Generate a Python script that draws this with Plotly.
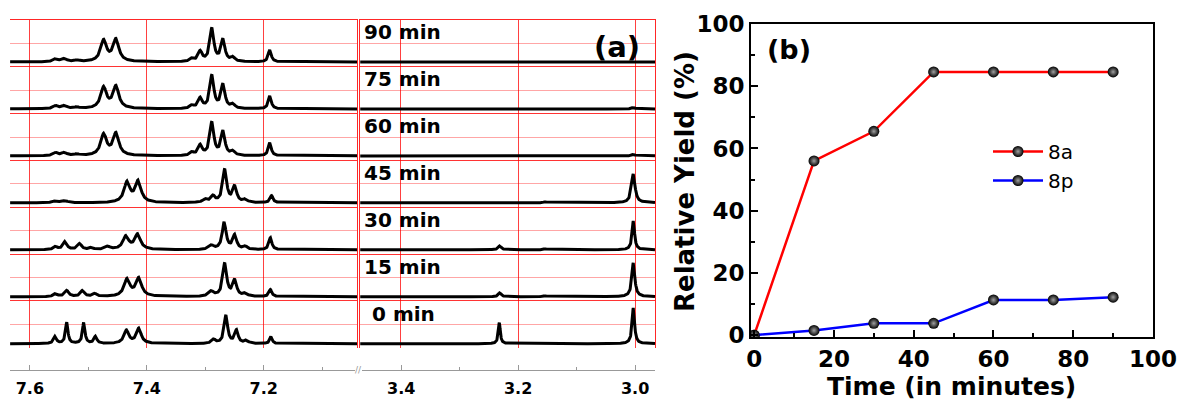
import numpy as np
import plotly.graph_objects as go

W, H = 1179, 402

# ---------------- Panel (b) data ----------------
times = [0, 15, 30, 45, 60, 75, 90]
yield_8a = [0, 56, 65.5, 84.6, 84.6, 84.6, 84.6]
yield_8p = [0, 1.5, 3.8, 3.8, 11.3, 11.3, 12.2]

# ---------------- Panel (a) data: peak lists (ppm, height, half-width) ----------------
spectrum_labels = ["0 min", "15 min", "30 min", "45 min", "60 min", "75 min", "90 min"]

peaks_0min = [(7.557, 7, 0.003), (7.537, 21, 0.0025), (7.508, 21, 0.0025), (7.488, 7, 0.003),
              (7.435, 13, 0.005), (7.414, 15, 0.005), (7.286, 4, 0.004), (7.265, 28, 0.0035),
              (7.247, 13, 0.0035), (7.230, 3, 0.004), (7.188, 7, 0.0025),
              (3.232, 21, 0.002), (3.154, 0.6, 0.003), (3.003, 36, 0.0025)]
peaks_15min = [(7.556, 3, 0.004), (7.537, 6, 0.004), (7.510, 6, 0.004), (7.489, 3, 0.004),
               (7.434, 17, 0.006), (7.414, 18, 0.006), (7.290, 5, 0.005), (7.267, 33, 0.004),
               (7.250, 16, 0.004), (7.232, 3, 0.004), (7.189, 7, 0.003),
               (3.231, 4, 0.003), (3.154, 1, 0.003), (3.003, 34, 0.003)]
peaks_30min = [(7.556, 3, 0.004), (7.540, 8, 0.004), (7.515, 6, 0.004), (7.495, 2, 0.004),
               (7.467, 3, 0.005), (7.436, 13, 0.006), (7.416, 15, 0.006), (7.290, 4, 0.005),
               (7.268, 27, 0.004), (7.250, 14, 0.004), (7.232, 3, 0.004), (7.189, 12, 0.003),
               (3.231, 4, 0.003), (3.154, 1, 0.003), (3.003, 29, 0.0025)]
peaks_45min = [(7.556, 2, 0.005), (7.540, 2, 0.005), (7.434, 20, 0.006), (7.415, 21, 0.006),
               (7.300, 3, 0.005), (7.287, 6, 0.004), (7.267, 33, 0.004), (7.250, 16, 0.004),
               (7.232, 3, 0.004), (7.187, 7, 0.003),
               (3.154, 1, 0.003), (3.003, 29, 0.0035)]
peaks_60min = [(7.556, 3, 0.005), (7.541, 3, 0.005), (7.520, 1.5, 0.005),
               (7.474, 21, 0.006), (7.453, 22, 0.006), (7.323, 3, 0.004), (7.309, 10, 0.004),
               (7.289, 33, 0.004), (7.270, 24, 0.004), (7.253, 4, 0.004), (7.190, 13, 0.003),
               (3.003, 1.5, 0.003)]
peaks_75min = [(7.556, 3, 0.005), (7.541, 3, 0.005), (7.520, 1.5, 0.005),
               (7.474, 21, 0.006), (7.453, 22, 0.006), (7.323, 3, 0.004), (7.309, 10, 0.004),
               (7.289, 33, 0.004), (7.270, 24, 0.004), (7.253, 4, 0.004), (7.190, 13, 0.003),
               (3.003, 1.5, 0.003)]
peaks_90min = [(7.556, 3, 0.005), (7.541, 3, 0.005), (7.520, 1.5, 0.005),
               (7.474, 21, 0.006), (7.453, 22, 0.006), (7.323, 3, 0.004), (7.309, 10, 0.004),
               (7.289, 33, 0.004), (7.270, 22, 0.004), (7.253, 4, 0.004), (7.190, 12, 0.003)]

all_peaks = [peaks_0min, peaks_15min, peaks_30min, peaks_45min, peaks_60min, peaks_75min, peaks_90min]

left_range = [7.634, 7.041]
right_range = [3.470, 2.966]
STACK = 47


def px_x(p):
    return p / W


def px_y(p):
    return 1 - p / H


def spectrum(x, peaks):
    y = np.zeros_like(x)
    for c, h, g in peaks:
        y += h / (1 + ((x - c) / g) ** 2)
    return y


x_left = np.arange(left_range[1], left_range[0], 0.0004)
x_right = np.arange(right_range[1], right_range[0], 0.0004)

fig = go.Figure()

for i, peaks in enumerate(all_peaks):
    off = i * STACK
    fig.add_trace(go.Scatter(x=x_left, y=spectrum(x_left, peaks) + off, mode="lines",
                             line=dict(color="black", width=3), showlegend=False,
                             xaxis="x", yaxis="y", hoverinfo="skip"))
    fig.add_trace(go.Scatter(x=x_right, y=spectrum(x_right, peaks) + off, mode="lines",
                             line=dict(color="black", width=3), showlegend=False,
                             xaxis="x2", yaxis="y2", hoverinfo="skip"))

# empty traces to register the bottom (ppm) axes
fig.add_trace(go.Scatter(x=[], y=[], xaxis="x3", yaxis="y3", showlegend=False))
fig.add_trace(go.Scatter(x=[], y=[], xaxis="x4", yaxis="y4", showlegend=False))

marker = dict(size=11, color="#000000", gradient=dict(type="radial", color="#a0a0a0"))
fig.add_trace(go.Scatter(x=times, y=yield_8a, name="8a", mode="lines+markers",
                         line=dict(color="#ff0000", width=2.5), marker=marker,
                         xaxis="x5", yaxis="y5"))
fig.add_trace(go.Scatter(x=times, y=yield_8p, name="8p", mode="lines+markers",
                         line=dict(color="#0000ff", width=2.5), marker=marker,
                         xaxis="x5", yaxis="y5"))

red_v = "rgba(255,0,0,0.75)"
red_major = "rgba(255,0,0,0.8)"
red_minor = "rgba(255,0,0,0.35)"
red_line = "rgba(255,0,0,0.85)"
y_dom = [px_y(348), px_y(20)]
y_rng = [-4.3, 324]

grid_x = dict(showgrid=True, gridcolor=red_v, gridwidth=1.2, showticklabels=False, ticks="",
              side="top", showline=True, linecolor=red_line, linewidth=1.2,
              zeroline=False, autorange=False, dtick=0.2)
grid_y = dict(domain=y_dom, range=y_rng, autorange=False, showgrid=True, gridcolor=red_major,
              gridwidth=1.2, tick0=-4, dtick=46.86, showticklabels=False, ticks="", zeroline=False,
              minor=dict(showgrid=True, gridcolor=red_minor, gridwidth=1.2, tick0=-4, dtick=23.43),
              showline=True, linecolor=red_line, linewidth=1.2)

tick_font_a = dict(family="DejaVu Sans", size=16, color="black", weight="bold")
bottom_ax = dict(autorange=False, showgrid=False,
                 zeroline=False, showline=True, linecolor="#999999", linewidth=1,
                 ticks="inside", ticklen=5, tickcolor="#999999", dtick=0.2, tickformat=".1f",
                 tickfont=tick_font_a, ticklabelstandoff=4, ticklabeloverflow="allow",
                 minor=dict(ticks="inside", ticklen=3, tickcolor="#999999", dtick=0.1))
hidden_y = dict(domain=[px_y(370), px_y(360)], range=[0, 1], visible=False, autorange=False)

tick_font_b = dict(family="DejaVu Sans", size=23, color="black", weight="bold")
frame_b = dict(showline=True, linecolor="black", linewidth=2, mirror=True, showgrid=False,
               zeroline=False, ticks="inside", ticklen=7, tickwidth=2, tickcolor="black",
               tickfont=tick_font_b, autorange=False, ticklabeloverflow="allow",
               minor=dict(ticks="inside", ticklen=4, tickwidth=2, tickcolor="black", dtick=10))

fig.update_layout(
    width=W, height=H, margin=dict(l=0, r=0, t=0, b=0, pad=0, autoexpand=False),
    paper_bgcolor="white", plot_bgcolor="rgba(0,0,0,0)",
    xaxis=dict(domain=[px_x(10), px_x(357)], range=left_range, anchor="y", tick0=7.6, **grid_x),
    yaxis=dict(anchor="x", side="right", **grid_y),
    xaxis2=dict(domain=[px_x(360), px_x(655)], range=right_range, anchor="y2", tick0=3.0, **grid_x),
    yaxis2=dict(anchor="x2", mirror=True, **grid_y),
    xaxis3=dict(domain=[px_x(10), px_x(355)], range=[7.634, 7.044], anchor="y3", tick0=7.6, **bottom_ax),
    yaxis3=dict(anchor="x3", **hidden_y),
    xaxis4=dict(domain=[px_x(362), px_x(655)], range=[3.467, 2.966], anchor="y4", tick0=3.0, **bottom_ax),
    yaxis4=dict(anchor="x4", **hidden_y),
    xaxis5=dict(domain=[px_x(751), px_x(1153)], range=[-0.8, 100], anchor="y5",
                tick0=0, dtick=20, **frame_b),
    yaxis5=dict(domain=[px_y(337), px_y(24)], range=[-0.6, 100], anchor="x5",
                tick0=0, dtick=20, **frame_b),
    legend=dict(x=px_x(988), y=px_y(132), xanchor="left", yanchor="top",
                bgcolor="rgba(0,0,0,0)", font=dict(family="DejaVu Sans", size=20, color="black"),
                itemwidth=50, tracegroupgap=0),
    showlegend=True,
)

annotations = []
for i, lab in enumerate(spectrum_labels):
    annotations.append(dict(xref="x2", yref="y2", x=3.453 if i == 0 else 3.466,
                            y=i * STACK + 30, text=lab, showarrow=False,
                            xanchor="left", yanchor="middle",
                            font=dict(family="DejaVu Sans", size=20, color="black", weight="bold")))
annotations += [
    dict(xref="paper", yref="paper", x=px_x(617), y=px_y(47), text="(a)", showarrow=False,
         xanchor="center", yanchor="middle",
         font=dict(family="DejaVu Sans", size=29, color="black", weight="bold")),
    dict(xref="paper", yref="paper", x=px_x(789), y=px_y(50), text="(b)", showarrow=False,
         xanchor="center", yanchor="middle",
         font=dict(family="DejaVu Sans", size=27, color="black", weight="bold")),
    dict(xref="paper", yref="paper", x=px_x(951), y=px_y(386), text="Time (in minutes)",
         showarrow=False, xanchor="center", yanchor="middle",
         font=dict(family="DejaVu Sans", size=25, color="black", weight="bold")),
    dict(xref="paper", yref="paper", x=px_x(685), y=px_y(182), text="Relative Yield (%)",
         showarrow=False, xanchor="center", yanchor="middle", textangle=-90,
         font=dict(family="DejaVu Sans", size=26, color="black", weight="bold")),
    dict(xref="paper", yref="paper", x=px_x(358), y=px_y(370), text="//", showarrow=False,
         xanchor="center", yanchor="middle",
         font=dict(family="DejaVu Sans", size=9, color="#999999")),
]
fig.update_layout(annotations=annotations)

fig.write_html("out.html")
